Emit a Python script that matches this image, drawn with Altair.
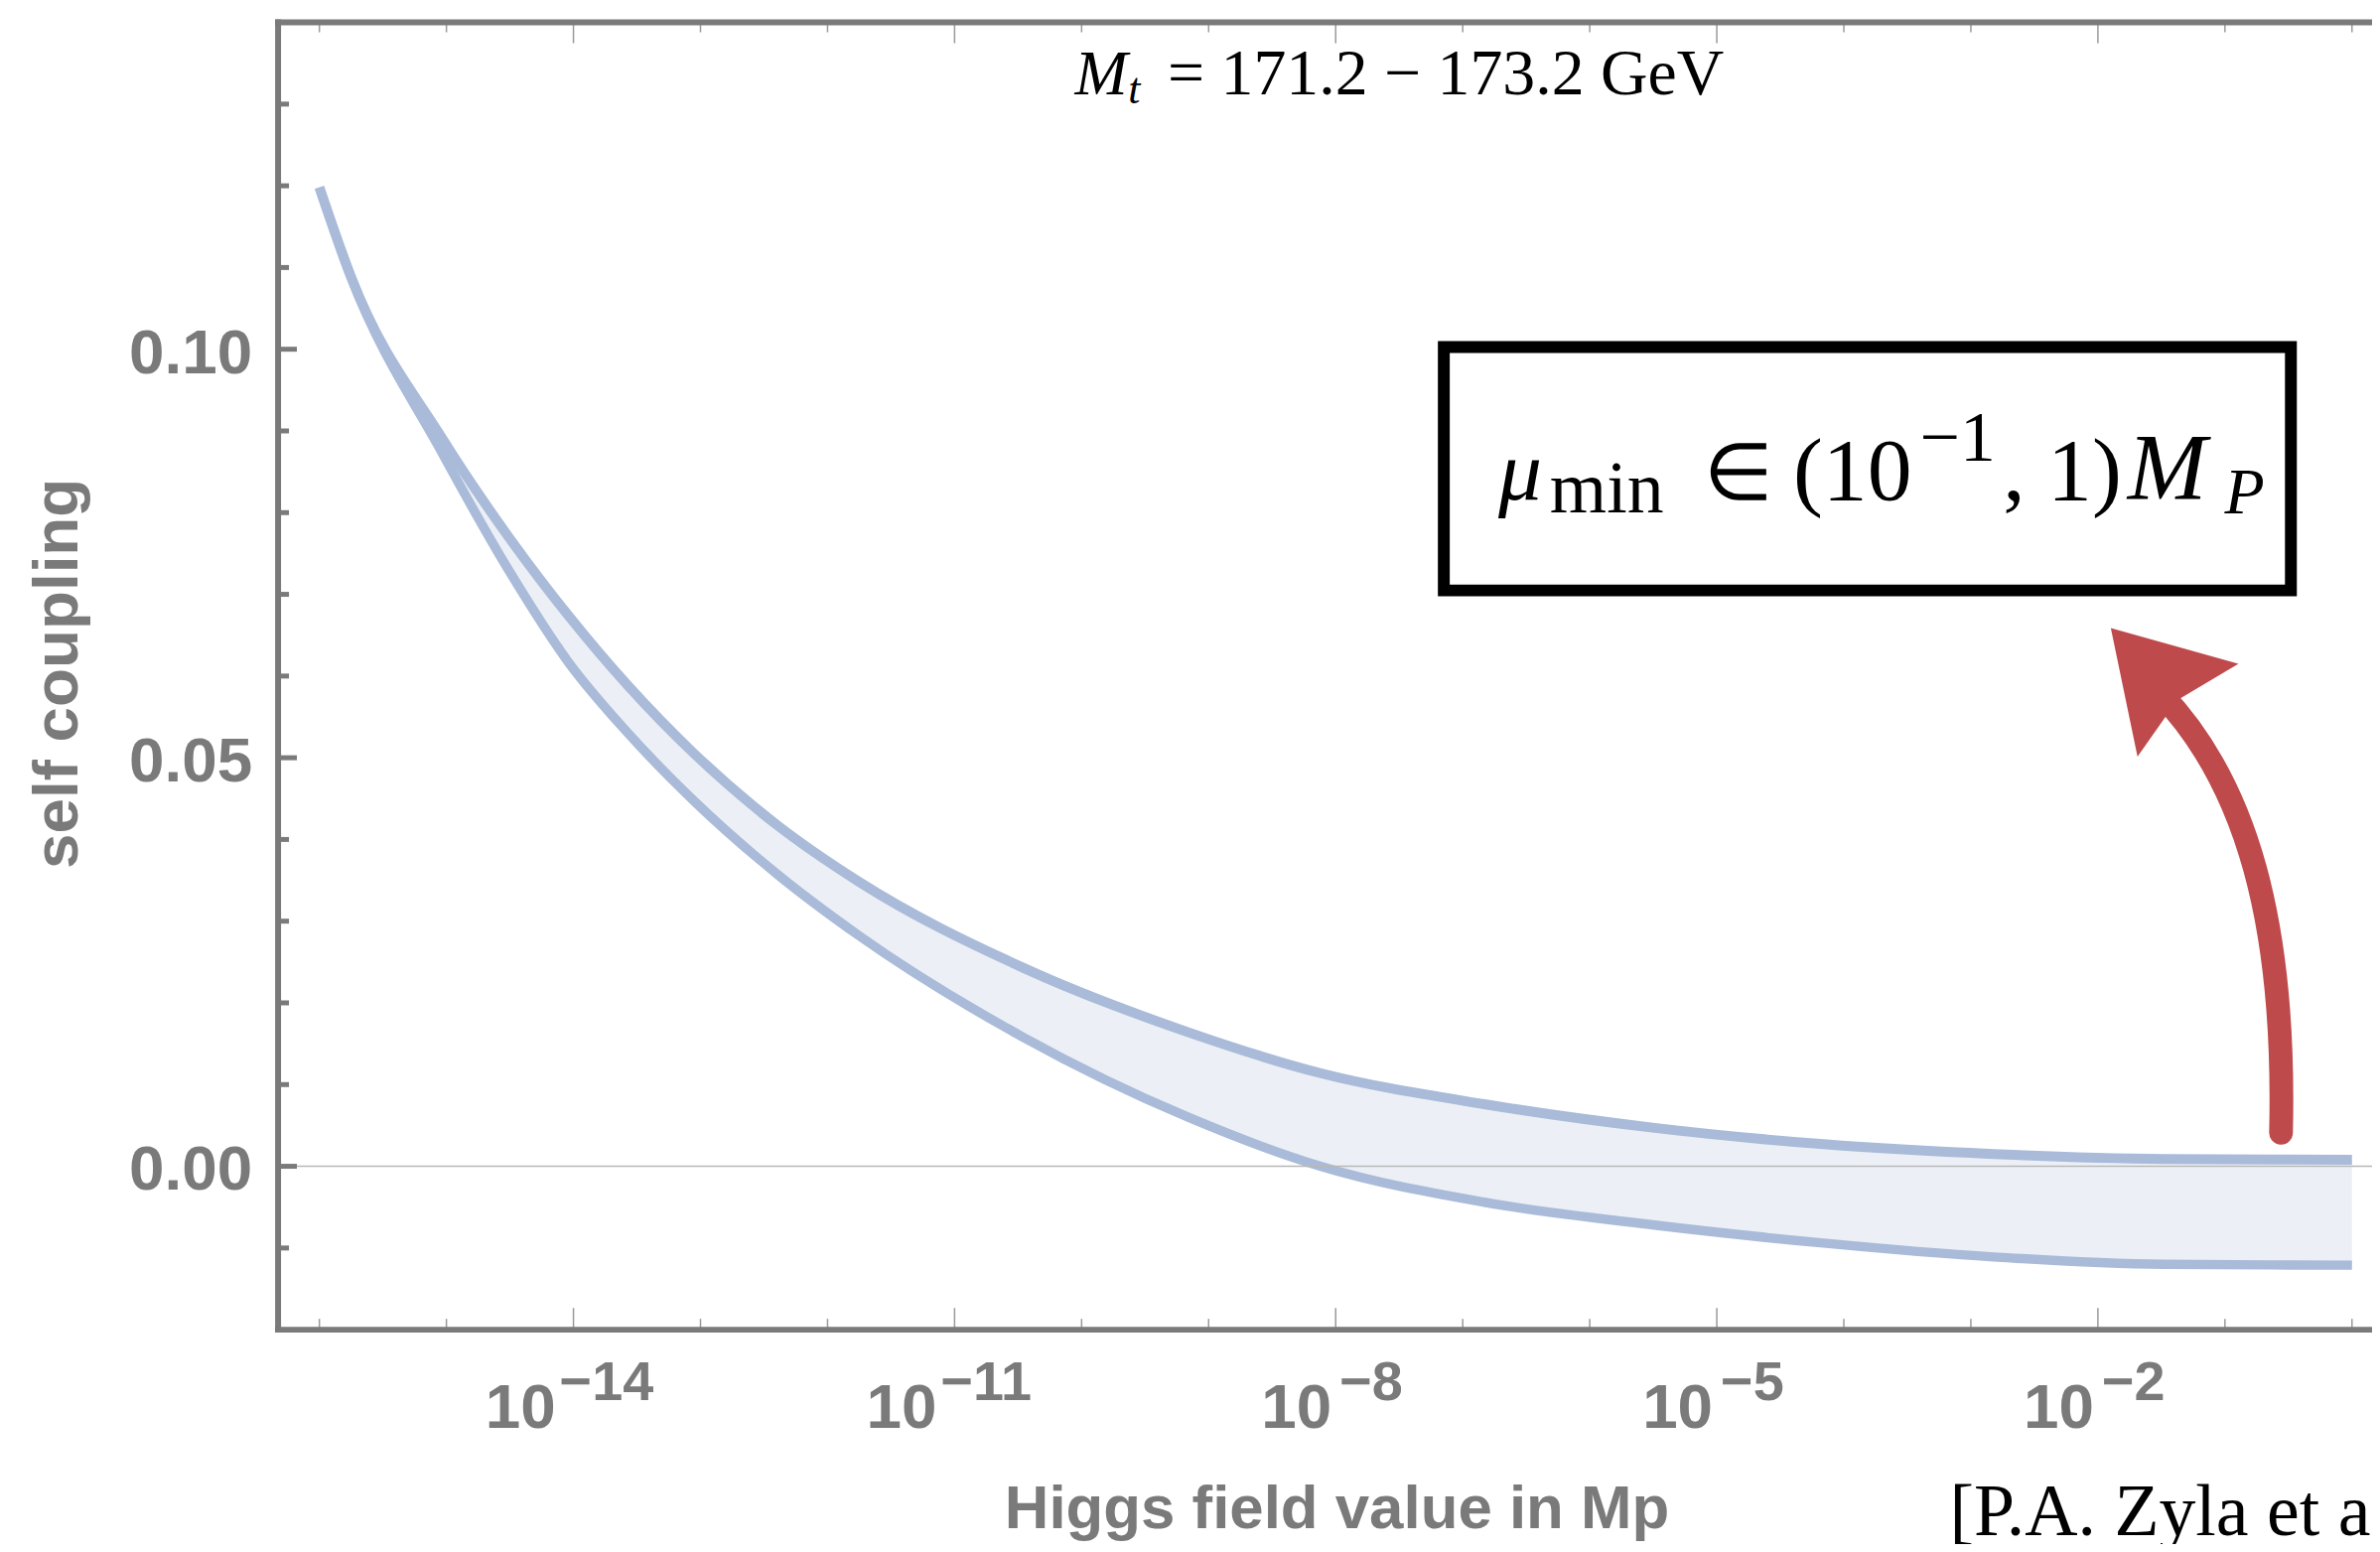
import altair as alt
import pandas as pd

# ---------------- values ----------------
field_exp = [-16.0, -15.75, -15.03, -14.5, -14.04, -13.57, -13.05, -12.40, -11.75,
             -10.46, -9.16, -8.12, -6.83, -5.49, -4.16, -2.82, -1.48, 0.0]
coupling_upper = [0.1198, 0.1088, 0.0890, 0.0768, 0.0674, 0.0588, 0.0505, 0.0418, 0.0348,
                  0.0243, 0.0164, 0.0114, 0.0076, 0.0047, 0.0027, 0.0015, 0.0009, 0.0008]
coupling_lower = [0.1198, 0.1088, 0.0872, 0.0727, 0.0617, 0.0530, 0.0447, 0.0358, 0.0282,
                  0.0158, 0.0060, 0.0000, -0.0044, -0.0072, -0.0094, -0.0111, -0.0120, -0.0121]

y_major_ticks = [0.0, 0.05, 0.10]
y_major_labels = ["0.00", "0.05", "0.10"]
y_minor_ticks = [-0.01, 0.01, 0.02, 0.03, 0.04, 0.06, 0.07, 0.08, 0.09, 0.11, 0.12, 0.13]
x_major_exp = [-14, -11, -8, -5, -2]
x_major_exp_text = ["\u221214", "\u221211", "\u22128", "\u22125", "\u22122"]
x_minor_exp = [-16, -15, -13, -12, -10, -9, -7, -6, -4, -3, -1, 0]

x_title = "Higgs field value in Mp"
y_title = "self coupling"
top_title = ["M", "t", "= 171.2 \u2212 173.2 GeV"]
box_text = ["\u03bc", "min", "\u2208", "(10", "\u22121", ", 1)", "M", "P"]
citation = "[P.A. Zyla et al. (Particle Data Group), Prog. Theor. Exp. Phys. 2020, 083C01]"

# ---------------- layout / style ----------------
OX, OY = 281, 20          # page position of the plot origin
W, H = 2116, 1321
X_DOMAIN = [10 ** -16.325, 10 ** 0.158]
Y_DOMAIN = [-0.02, 0.14]
GRAY = "#7a7a7a"
TICK = "#9a9a9a"
LINE = "#a9bbd9"
FILL = "#ecf0f6"
RED = "#bf4a4c"
SANS = "Liberation Sans, Arial, Helvetica, sans-serif"
SERIF = "Liberation Serif, Times New Roman, serif"

xs = alt.Scale(type="log", domain=X_DOMAIN, nice=False)
ys = alt.Scale(domain=Y_DOMAIN, nice=False, zero=False)


def X(f):
    return alt.X(f, type="quantitative", scale=xs, axis=None)


def Y(f):
    return alt.Y(f, type="quantitative", scale=ys, axis=None)


one = pd.DataFrame({"k": [0]})

band = pd.DataFrame({
    "x": [10.0 ** e for e in field_exp],
    "upper": coupling_upper,
    "lower": coupling_lower,
})
xmaj = pd.DataFrame({"x": [10.0 ** e for e in x_major_exp], "exp": x_major_exp_text})
xmin = pd.DataFrame({"x": [10.0 ** e for e in x_minor_exp]})
ymaj = pd.DataFrame({"v": y_major_ticks, "lab": y_major_labels})
ymin = pd.DataFrame({"v": y_minor_ticks})
zero = pd.DataFrame({"v": [0.0]})

xmaj2 = xmaj[xmaj["exp"].str.len() == 3]
xmaj1 = xmaj[xmaj["exp"].str.len() == 2]


def txt(s, px, py, size, font, weight="normal", style="normal", color="black",
        align="left", angle=0):
    return alt.Chart(one).mark_text(
        text=s, align=align, baseline="alphabetic", fontSize=size, font=font,
        fontWeight=weight, fontStyle=style, color=color, angle=angle,
    ).encode(x=alt.value(px - OX), y=alt.value(py - OY))


layers = []

# band
layers.append(alt.Chart(band).mark_area(color=FILL, interpolate="monotone").encode(
    x=X("x"), y=Y("lower"), y2=alt.Y2("upper")))
layers.append(alt.Chart(band).mark_line(color=LINE, strokeWidth=10, interpolate="monotone").encode(
    x=X("x"), y=Y("upper")))
layers.append(alt.Chart(band).mark_line(color=LINE, strokeWidth=9.5, interpolate="monotone").encode(
    x=X("x"), y=Y("lower")))

# zero line
layers.append(alt.Chart(zero).mark_rule(color="#b8b8b8", strokeWidth=1.5).encode(
    y=Y("v"), x=alt.value(0), x2=alt.value(W)))

# x ticks (bottom, pointing in) and top ticks
layers.append(alt.Chart(xmaj).mark_rule(color=TICK, strokeWidth=1.5).encode(
    x=X("x"), y=alt.value(H), y2=alt.value(H - 22)))
layers.append(alt.Chart(xmin).mark_rule(color=TICK, strokeWidth=1.5).encode(
    x=X("x"), y=alt.value(H), y2=alt.value(H - 11)))
layers.append(alt.Chart(xmaj).mark_rule(color=TICK, strokeWidth=1.5).encode(
    x=X("x"), y=alt.value(0), y2=alt.value(21)))
layers.append(alt.Chart(xmin).mark_rule(color=TICK, strokeWidth=1.5).encode(
    x=X("x"), y=alt.value(0), y2=alt.value(10)))

# y ticks
layers.append(alt.Chart(ymaj).mark_rule(color=GRAY, strokeWidth=5).encode(
    y=Y("v"), x=alt.value(0), x2=alt.value(19)))
layers.append(alt.Chart(ymin).mark_rule(color=GRAY, strokeWidth=5).encode(
    y=Y("v"), x=alt.value(0), x2=alt.value(11)))

# frame lines
layers.append(alt.Chart(one).mark_rule(color=GRAY, strokeWidth=6).encode(
    x=alt.value(0), y=alt.value(-3), y2=alt.value(H + 3)))
layers.append(alt.Chart(one).mark_rule(color=GRAY, strokeWidth=6).encode(
    y=alt.value(H), x=alt.value(-3), x2=alt.value(W)))
layers.append(alt.Chart(one).mark_rule(color=GRAY, strokeWidth=6).encode(
    y=alt.value(0), x=alt.value(-3), x2=alt.value(W)))

# y tick labels
layers.append(alt.Chart(ymaj).mark_text(
    align="right", baseline="alphabetic", dx=-26, dy=24, fontSize=64, font=SANS,
    fontWeight="bold", color=GRAY).encode(x=alt.value(0), y=Y("v"), text="lab:N"))

# x tick labels: "10" with a raised exponent
for grp, dbase, dexp in [(xmaj2, -18, -14), (xmaj1, -4, 4)]:
    layers.append(alt.Chart(grp).mark_text(
        text="10", align="right", baseline="alphabetic", dx=dbase, fontSize=64, font=SANS,
        fontWeight="bold", color=GRAY).encode(x=X("x"), y=alt.value(1440 - OY)))
    layers.append(alt.Chart(grp).mark_text(
        align="left", baseline="alphabetic", dx=dexp, fontSize=56, font=SANS,
        fontWeight="bold", color=GRAY).encode(x=X("x"), y=alt.value(1412 - OY), text="exp:N"))

# axis titles
layers.append(txt(x_title, 1351, 1542, 62, SANS, weight="bold", color=GRAY, align="center"))
layers.append(txt(y_title, 78, 678, 64, SANS, weight="bold", color=GRAY, align="center", angle=270))

# top title  M_t = 171.2 - 173.2 GeV
layers.append(txt(top_title[0], 1086, 93, 64, SERIF, style="italic"))
layers.append(txt(top_title[1], 1140, 102, 44, SERIF, style="italic"))
layers.append(txt(top_title[2], 1180, 93, 66, SERIF))

# boxed annotation
layers.append(alt.Chart(one).mark_rect(stroke="black", strokeWidth=12, fillOpacity=0).encode(
    x=alt.value(1459 - OX), x2=alt.value(2315 - OX), y=alt.value(348 - OY), y2=alt.value(594 - OY)))
layers.append(txt(box_text[0], 1514, 502, 88, SERIF, style="italic"))
layers.append(txt(box_text[1], 1566, 515, 74, SERIF))
layers.append(txt(box_text[2], 1722, 502, 80, SERIF))
layers.append(txt(box_text[3], 1812, 502, 90, SERIF))
layers.append(txt(box_text[4], 1940, 463, 72, SERIF))
layers.append(txt(box_text[5], 2024, 502, 90, SERIF))
layers.append(txt(box_text[6], 2150, 502, 96, SERIF, style="italic"))
layers.append(txt(box_text[7], 2248, 516, 66, SERIF, style="italic"))

# red curved arrow (custom symbol paths in unit square, radius 265 px)
ACX, ACY, AR = 2222, 888, 265
SHAFT = "M 0.3132 0.9585 C 0.3321 0.1585 0.1811 -0.3698 -0.1396 -0.7094"
HEAD = "M -0.3358 -0.9660 L 0.1509 -0.8302 L -0.0830 -0.6906 L -0.2340 -0.4755 Z"
layers.append(alt.Chart(one).mark_point(
    shape=SHAFT, filled=False, stroke=RED, strokeWidth=24, strokeCap="round",
    size=(2 * AR) ** 2, opacity=1).encode(x=alt.value(ACX - OX), y=alt.value(ACY - OY)))
layers.append(alt.Chart(one).mark_point(
    shape=HEAD, filled=True, color=RED, strokeWidth=0,
    size=(2 * AR) ** 2, opacity=1).encode(x=alt.value(ACX - OX), y=alt.value(ACY - OY)))

# citation (cut by the right edge, as in the slide)
layers.append(txt(citation, 1970, 1549, 74, SERIF))

chart = alt.layer(*layers).properties(
    width=W, height=H,
    padding={"left": OX - 8, "top": OY - 8, "right": 0, "bottom": 214},
    autosize=alt.AutoSizeParams(type="none"),
).configure_view(strokeWidth=0)

chart.save("out.html", embed_options={"renderer": "svg", "actions": False})
